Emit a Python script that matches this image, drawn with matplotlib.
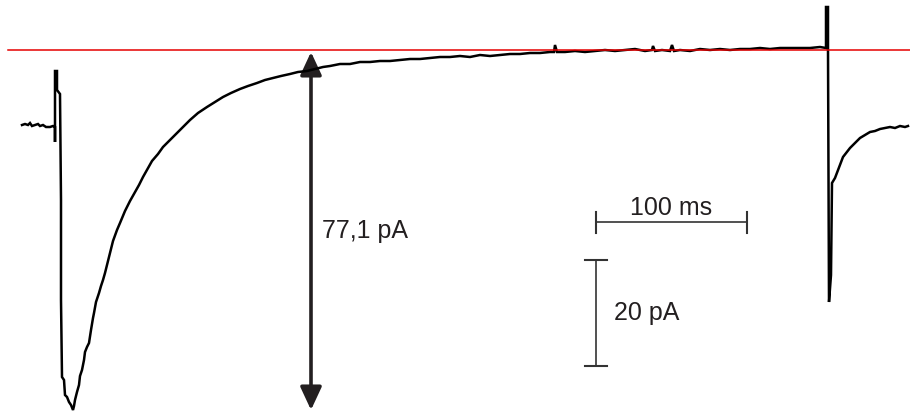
import matplotlib
matplotlib.use("Agg")
import matplotlib.pyplot as plt
from matplotlib.patches import FancyArrowPatch

plt.rcParams['font.family'] = ['Liberation Sans', 'DejaVu Sans']

# trace, in picture units (x to the right, y downward)
pre_x = [22, 25, 28, 30, 32, 35, 38, 40, 43, 46, 50, 53, 55]
pre_y = [125, 124, 125, 123, 126, 125, 124, 126, 125, 127, 127, 126, 127]

# stimulus artefact, onset and peak of the current
peak_x = [55, 55, 55, 57, 57, 60, 61, 61, 62, 64, 65, 67, 69, 71, 73, 74, 75, 77, 79, 80,
          82, 84, 85, 87, 89, 91, 93, 94, 96, 99, 101, 103]
peak_y = [127, 142, 71, 71, 90, 94, 200, 300, 377, 380, 395, 397, 402, 405, 410, 406, 400,
          392, 385, 376, 370, 360, 352, 347, 343, 330, 318, 313, 302, 293, 286, 280]

# decay back towards the baseline
decay_x = [105, 109, 113, 117, 120, 125, 130, 135, 139, 143, 148, 152, 158, 163, 170, 177,
           183, 190, 198, 207, 215, 223, 231, 240, 248, 257, 265, 273, 281, 290, 298, 307,
           315, 323]
decay_y = [273, 257, 241, 230, 223, 211, 201, 192, 185, 177, 168, 161, 154, 147, 140, 133,
           127, 120, 113, 107, 102, 97, 93, 89, 86, 83, 80, 78, 76, 74, 72, 71, 69, 67]

# late, noisy plateau
plat_x = [330, 340, 350, 360, 370, 380, 390, 400, 410, 420, 430, 440, 450, 460, 470, 480,
          490, 500, 510, 520, 530, 540, 550, 554, 555, 557, 565, 575, 585, 595, 605, 615,
          625, 635, 645, 652, 653, 655, 662, 670, 672, 674, 680, 690, 700, 710, 720, 730,
          740, 750, 760, 770, 780, 790, 800, 810, 820, 826]
plat_y = [66, 64, 64, 62, 62, 61, 61, 60, 59, 59, 58, 57, 57, 56, 57, 55, 56, 55, 54, 54,
          53, 53, 52, 52, 45, 52, 52, 51, 52, 51, 50, 51, 50, 49, 51, 50, 46, 51, 50, 51,
          45, 51, 50, 51, 49, 50, 49, 50, 49, 49, 48, 49, 48, 48, 48, 48, 47, 48]

# second artefact and recovery at the end
post_x = [826, 826, 828, 828, 829, 831, 832, 835, 840, 843, 850, 855, 860, 865, 870, 875,
          880, 885, 890, 895, 900, 905, 908]
post_y = [48, 7, 7, 50, 302, 275, 183, 178, 165, 157, 148, 143, 138, 135, 132, 131, 129,
          128, 127, 128, 126, 127, 126]

baseline_y = 50
amp_label = "77,1 pA"
time_bar_label = "100 ms"
curr_bar_label = "20 pA"

fig = plt.figure(figsize=(9.1, 4.12), dpi=100)
ax = fig.add_axes([0, 0, 1, 1])
ax.set_xlim(0, 910)
ax.set_ylim(412, 0)
ax.axis("off")

trace_x = pre_x + peak_x + decay_x + plat_x + post_x
trace_y = pre_y + peak_y + decay_y + plat_y + post_y
ax.plot(trace_x, trace_y, color="black", lw=1.8, solid_joinstyle="miter")

ax.plot([8, 910], [baseline_y, baseline_y], color="#e60000", lw=1.1)

# amplitude arrow
arr = FancyArrowPatch((311, 52), (311, 410), arrowstyle="<|-|>,head_length=1.4,head_width=0.65",
                      mutation_scale=10, color="#231f20", lw=2.6, shrinkA=0, shrinkB=0)
ax.add_patch(arr)
ax.text(322, 238, amp_label, fontsize=18, ha="left", va="baseline", color="#231f20")

# scale bars
bar_col = "#333333"
ax.plot([596, 747], [222, 222], color=bar_col, lw=1.2)
ax.plot([596, 596], [212, 233], color=bar_col, lw=1.5)
ax.plot([747, 747], [212, 233], color=bar_col, lw=1.5)
ax.text(671, 215, time_bar_label, fontsize=18, ha="center", va="baseline", color="#231f20")

ax.plot([596, 596], [260, 366], color=bar_col, lw=1.2)
ax.plot([585, 607], [260, 260], color=bar_col, lw=1.5)
ax.plot([585, 607], [366, 366], color=bar_col, lw=1.5)
ax.text(614, 320, curr_bar_label, fontsize=18, ha="left", va="baseline", color="#231f20")

fig.savefig("out.png", dpi=100)
